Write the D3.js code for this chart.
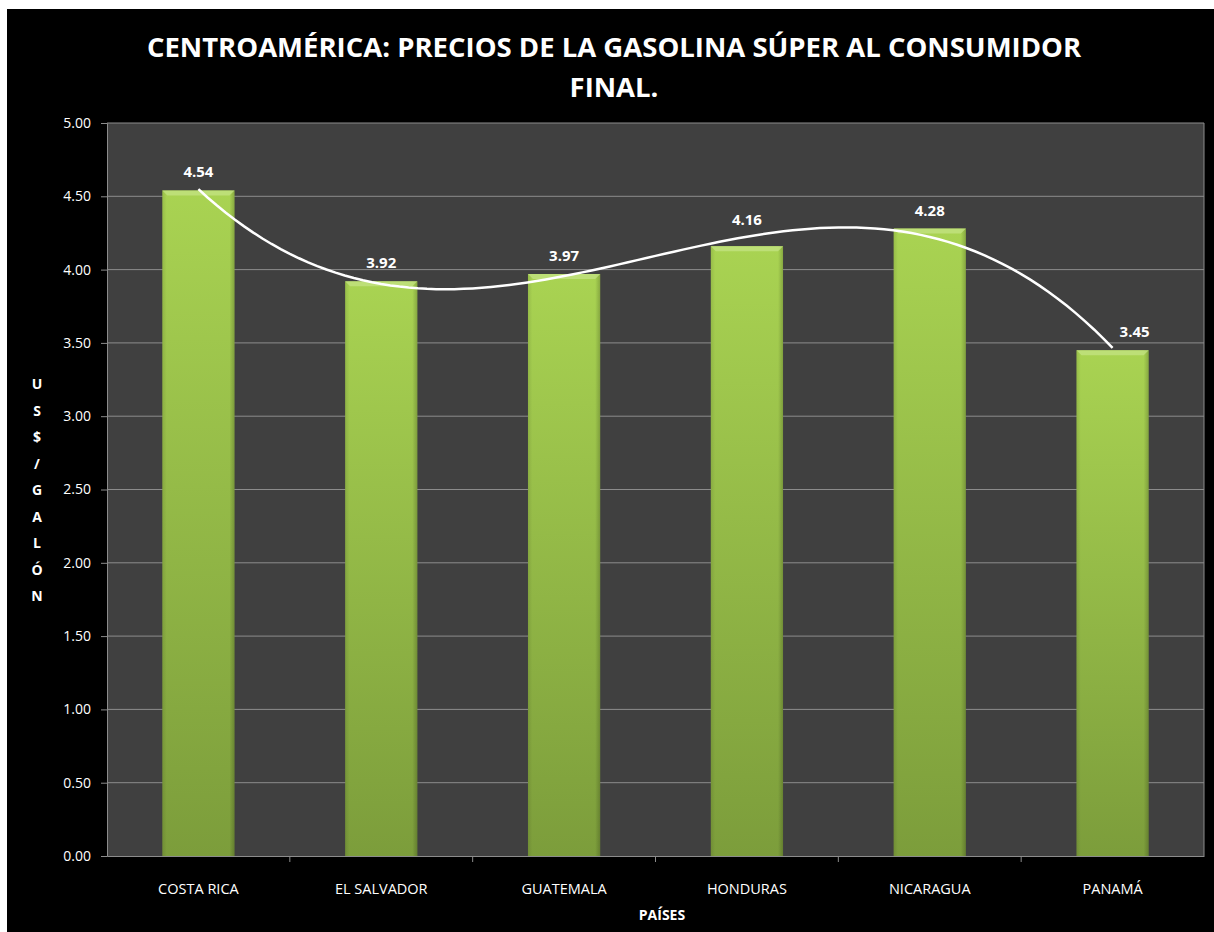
<!DOCTYPE html>
<html>
<head>
<meta charset="utf-8">
<script src="https://cdn.jsdelivr.net/npm/d3@7"></script>
<style>
  body { margin: 0; background: #fff; }
  #chart { position: absolute; left: 0; top: 0; }
  text { font-family: "Open Sans", Arial, sans-serif; }
</style>
</head>
<body>
<div id="chart"></div>
<script>
// data
const countries = ['COSTA RICA', 'EL SALVADOR', 'GUATEMALA', 'HONDURAS', 'NICARAGUA', 'PANAMÁ'];
const prices = [4.54, 3.92, 3.97, 4.16, 4.28, 3.45];
const yTicks = [0, 0.5, 1, 1.5, 2, 2.5, 3, 3.5, 4, 4.5, 5];
const titleLines = ['CENTROAMÉRICA: PRECIOS DE LA GASOLINA SÚPER AL CONSUMIDOR', 'FINAL.'];
const yTitle = 'US$/GALÓN';
const xTitle = 'PAÍSES';

const W = 1214, H = 932;
const margin = {top: 123, right: 10, bottom: 76, left: 107};
const width = 1204 - margin.left,
      height = 856 - margin.top;

// cubic least-squares trendline (like the spreadsheet's polynomial trendline)
function polyFit(ys, degree) {
  const n = degree + 1;
  const A = [];
  for (let r = 0; r < n; r++) {
    A.push(new Array(n + 1).fill(0));
  }
  ys.forEach((v, i) => {
    const xv = i + 1;
    for (let r = 0; r < n; r++) {
      for (let c = 0; c < n; c++) A[r][c] += Math.pow(xv, r + c);
      A[r][n] += v * Math.pow(xv, r);
    }
  });
  // gauss elimination
  for (let p = 0; p < n; p++) {
    let max = p;
    for (let r = p + 1; r < n; r++) if (Math.abs(A[r][p]) > Math.abs(A[max][p])) max = r;
    [A[p], A[max]] = [A[max], A[p]];
    for (let r = p + 1; r < n; r++) {
      const f = A[r][p] / A[p][p];
      for (let c = p; c <= n; c++) A[r][c] -= f * A[p][c];
    }
  }
  const coef = new Array(n).fill(0);
  for (let r = n - 1; r >= 0; r--) {
    let s = A[r][n];
    for (let c = r + 1; c < n; c++) s -= A[r][c] * coef[c];
    coef[r] = s / A[r][r];
  }
  return xv => coef.reduce((acc, k, j) => acc + k * Math.pow(xv, j), 0);
}

const svg = d3.select('#chart').append('svg')
  .attr('width', W).attr('height', H);

// black chart area
svg.append('rect').attr('x', 7).attr('y', 9).attr('width', W - 7).attr('height', H - 9).attr('fill', '#000');

const defs = svg.append('defs');
const grad = defs.append('linearGradient').attr('id', 'barGrad')
  .attr('x1', 0).attr('y1', 0).attr('x2', 0).attr('y2', 1);
grad.append('stop').attr('offset', '0%').attr('stop-color', '#a9d352');
grad.append('stop').attr('offset', '100%').attr('stop-color', '#7c9d3b');
const side = defs.append('linearGradient').attr('id', 'sideGrad')
  .attr('x1', 0).attr('y1', 0).attr('x2', 1).attr('y2', 0);
side.append('stop').attr('offset', '0%').attr('stop-color', '#000').attr('stop-opacity', 0.1);
side.append('stop').attr('offset', '6%').attr('stop-color', '#000').attr('stop-opacity', 0);
side.append('stop').attr('offset', '93%').attr('stop-color', '#000').attr('stop-opacity', 0);
side.append('stop').attr('offset', '100%').attr('stop-color', '#000').attr('stop-opacity', 0.2);

// title
svg.append('text')
  .attr('text-anchor', 'middle')
  .attr('fill', '#fff').style('font-weight', 'bold').style('font-size', '27.5px')
  .selectAll('tspan').data(titleLines).enter().append('tspan')
  .attr('x', 614).attr('y', (d, i) => 57 + i * 40)
  .text(d => d);

const g = svg.append('g').attr('transform', 'translate(' + margin.left + ',' + margin.top + ')');

const x = d3.scaleBand().domain(countries).range([0, width]).padding(0);
const y = d3.scaleLinear().domain([0, 5]).range([height, 0]);

// plot background
g.append('rect').attr('width', width).attr('height', height).attr('fill', '#404040');

// grid
g.selectAll('.grid').data(yTicks.filter(d => d > 0)).enter().append('line')
  .attr('x1', 0).attr('x2', width)
  .attr('y1', d => y(d)).attr('y2', d => y(d))
  .attr('stroke', '#8c8c8c').attr('stroke-width', 1);

g.append('line').attr('x1', width).attr('x2', width).attr('y1', 0).attr('y2', height)
  .attr('stroke', '#8c8c8c');

// bars
const barW = x.bandwidth() * 0.395;
const barX = i => x(countries[i]) + (x.bandwidth() - barW) / 2;
const bars = g.selectAll('.bar').data(prices).enter().append('g').attr('class', 'bar');
bars.append('rect')
  .attr('x', (d, i) => barX(i))
  .attr('y', d => y(d))
  .attr('width', barW)
  .attr('height', d => height - y(d))
  .attr('fill', 'url(#barGrad)');
bars.append('rect')
  .attr('x', (d, i) => barX(i))
  .attr('y', d => y(d))
  .attr('width', barW)
  .attr('height', d => height - y(d))
  .attr('fill', 'url(#sideGrad)');
// top bevel
bars.append('path')
  .attr('d', (d, i) => {
    const x0 = barX(i), y0 = y(d);
    return 'M' + x0 + ',' + y0 + 'H' + (x0 + barW) + 'L' + (x0 + barW - 5) + ',' + (y0 + 5) +
      'H' + (x0 + 5) + 'Z';
  })
  .attr('fill', '#c4e384').attr('opacity', 0.75);

// smooth trendline
const fit = polyFit(prices, 3);
const samples = d3.range(1, 6.001, 0.05);
const cx = v => x(countries[0]) + x.bandwidth() / 2 + (v - 1) * x.step();
const line = d3.line()
  .x(d => cx(d))
  .y(d => y(fit(d)));
g.append('path').datum(samples)
  .attr('d', line)
  .attr('fill', 'none').attr('stroke', '#fff').attr('stroke-width', 2.5);

// value labels (Honduras and Panamá labels were moved off the line in the original)
g.selectAll('.val').data(prices).enter().append('text')
  .attr('x', (d, i) => x(countries[i]) + x.bandwidth() / 2 + (countries[i] === 'PANAMÁ' ? 22 : 0))
  .attr('y', d => y(d) - 13)
  .attr('dy', (d, i) => countries[i] === 'HONDURAS' ? -8 : 0)
  .attr('text-anchor', 'middle')
  .attr('fill', '#fff').style('font-weight', 'bold').style('font-size', '15px')
  .text(d => d.toFixed(2));

// axes
const yAxis = g.append('g')
  .call(d3.axisLeft(y).tickValues(yTicks).tickFormat(d3.format('.2f')).tickSize(6).tickPadding(10));
const xAxis = g.append('g').attr('transform', 'translate(0,' + height + ')')
  .call(d3.axisBottom(x).tickSize(0).tickPadding(28));
[yAxis, xAxis].forEach(a => {
  a.select('.domain').attr('stroke', '#8c8c8c');
  a.selectAll('.tick line').attr('stroke', '#8c8c8c');
  a.selectAll('.tick text').attr('fill', '#fff').style('font-size', '14px')
    .style('font-family', '"Open Sans", Arial, sans-serif');
});
xAxis.selectAll('.tick text').style('font-size', '14.5px');
// category separators on x axis
g.selectAll('.xsep').data(countries.slice(1)).enter().append('line')
  .attr('x1', d => x(d)).attr('x2', d => x(d))
  .attr('y1', height).attr('y2', height + 6)
  .attr('stroke', '#8c8c8c');

// axis titles
svg.append('text')
  .attr('x', 662).attr('y', 920).attr('text-anchor', 'middle')
  .attr('fill', '#fff').style('font-weight', 'bold').style('font-size', '14px')
  .text(xTitle);

svg.append('g').selectAll('text').data(yTitle.split('')).enter().append('text')
  .attr('x', 37).attr('y', (d, i) => 389 + i * 26.5)
  .attr('text-anchor', 'middle')
  .attr('fill', '#fff').style('font-weight', 'bold').style('font-size', '14px')
  .text(d => d);
</script>
</body>
</html>
